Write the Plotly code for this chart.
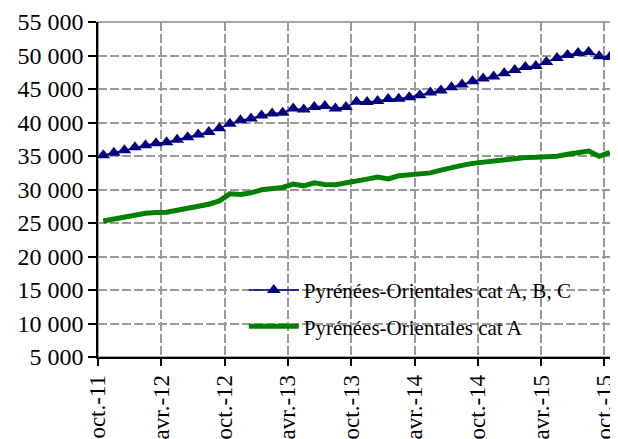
import plotly.graph_objects as go

# French month abbreviations, series starts in October 2011
mois = ["janv.", "févr.", "mars", "avr.", "mai", "juin",
        "juil.", "août", "sept.", "oct.", "nov.", "déc."]
months = [f"{mois[(9 + i) % 12]}-{11 + (9 + i) // 12}" for i in range(49)]

# Demandeurs d'emploi, Pyrénées-Orientales
cat_abc = [35100, 35500, 35850, 36300, 36600, 36900, 37050, 37430, 37800, 38200,
           38600, 39150, 39800, 40350, 40600, 41050, 41350, 41460, 42100, 41950,
           42300, 42450, 42100, 42300, 43100, 43050, 43200, 43500, 43550, 43780,
           44080, 44480, 44780, 45250, 45660, 46150, 46550, 46850, 47340, 47840,
           48280, 48430, 49030, 49630, 50075, 50370, 50520, 49880, 49780]

cat_a = [25300, 25600, 25800, 26250, 26450, 26550, 26600, 26900, 27200, 27500,
         27800, 28300, 29350, 29250, 29500, 29950, 30100, 30300, 30800, 30550,
         31000, 30750, 30720, 30950, 31250, 31550, 31850, 31580, 32050, 32250,
         32320, 32480, 32900, 33300, 33600, 33900, 34070, 34310, 34500, 34650,
         34780, 34800, 34800, 34950, 35250, 35550, 35750, 34950, 35550]

# points sit in the middle of each month, ticks on month boundaries
x = [i + 0.5 for i in range(len(months))]
tick_vals = list(range(0, len(months), 6))
tick_text = [months[i] for i in tick_vals]

serif = "Liberation Serif, Times New Roman, serif"

grid = dict(showgrid=True, gridcolor="#9a9a9a", griddash="9px,3px", gridwidth=1.5,
            ticks="outside", tickcolor="black", tickwidth=1.5,
            showline=True, linecolor="black", linewidth=1.5,
            zeroline=False, automargin=False)

fig = go.Figure()

fig.add_trace(go.Scatter(
    x=x, y=cat_abc, customdata=months,
    mode="lines+markers",
    name="Pyrénées-Orientales cat A, B, C",
    legendgroup="abc",
    line=dict(color="#000080", width=1.5),
    marker=dict(symbol="triangle-up", size=12, color="#000080"),
    hovertemplate="%{customdata}<br>%{y:,d}<extra></extra>"
))

fig.add_trace(go.Scatter(
    x=x, y=cat_a, customdata=months,
    mode="lines",
    name="Pyrénées-Orientales cat A",
    legendgroup="a",
    line=dict(color="#008000", width=5),
    hovertemplate="%{customdata}<br>%{y:,d}<extra></extra>"
))

# grey frame on the top and right of the plot area
fig.add_shape(type="rect", xref="x domain", yref="y domain",
              x0=0, x1=1, y0=0, y1=1, layer="below",
              line=dict(color="#888888", width=1.5))

# the page adds an 8px body margin, so the figure is 8px smaller
fig.update_layout(
    width=610, height=431,
    margin=dict(l=90, r=3, t=14, b=82),
    paper_bgcolor="white", plot_bgcolor="white",
    font=dict(family=serif, size=23, color="black"),
    separators=", ",
    showlegend=True,
    legend=dict(x=0.282, y=0.26, xanchor="left", yanchor="top",
                bgcolor="rgba(0,0,0,0)", font=dict(family=serif, size=21),
                itemwidth=50, tracegroupgap=6, traceorder="grouped"),
    xaxis=dict(range=[0, len(months)], tickvals=tick_vals, ticktext=tick_text,
               tickangle=-90, ticklen=7, tickfont=dict(family=serif, size=23),
               **grid),
    yaxis=dict(range=[5000, 55000], tick0=5000, dtick=5000, tickformat=",d",
               ticklen=8, tickfont=dict(family=serif, size=24), **grid),
)

fig.write_html("out.html")
